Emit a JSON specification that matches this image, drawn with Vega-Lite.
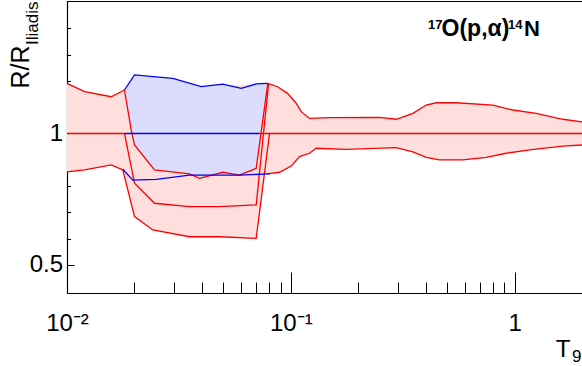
{
  "$schema": "https://vega.github.io/schema/vega-lite/v6.json",
  "width": 515,
  "height": 292,
  "autosize": "none",
  "padding": {"left": 67, "top": 1, "right": 0, "bottom": 73},
  "background": "white",
  "config": {"view": {"stroke": "#000", "strokeWidth": 1}, "font": "Liberation Sans"},
  "datasets": {
    "redfill": [
      {"x": 0.01, "y": 1.303}, {"x": 0.012, "y": 1.247}, {"x": 0.01576, "y": 1.214}, {"x": 0.01806, "y": 1.258},
      {"x": 0.07894, "y": 1.303}, {"x": 0.08722, "y": 1.28}, {"x": 0.09667, "y": 1.236}, {"x": 0.1057, "y": 1.173},
      {"x": 0.1113, "y": 1.122}, {"x": 0.1212, "y": 1.083}, {"x": 0.1489, "y": 1.087}, {"x": 0.2491, "y": 1.089},
      {"x": 0.2958, "y": 1.078}, {"x": 0.3509, "y": 1.112}, {"x": 0.4027, "y": 1.162}, {"x": 0.4464, "y": 1.176},
      {"x": 0.5483, "y": 1.176}, {"x": 0.799, "y": 1.162}, {"x": 0.9817, "y": 1.132}, {"x": 1.249, "y": 1.112},
      {"x": 1.642, "y": 1.078}, {"x": 2.0, "y": 1.063},
      {"x": 2.0, "y": 0.941}, {"x": 1.642, "y": 0.936}, {"x": 1.166, "y": 0.917}, {"x": 0.9174, "y": 0.901},
      {"x": 0.7466, "y": 0.882}, {"x": 0.5869, "y": 0.87}, {"x": 0.4617, "y": 0.87}, {"x": 0.4027, "y": 0.882},
      {"x": 0.3509, "y": 0.908}, {"x": 0.2958, "y": 0.928}, {"x": 0.1768, "y": 0.92}, {"x": 0.1299, "y": 0.925},
      {"x": 0.1212, "y": 0.901}, {"x": 0.1094, "y": 0.885}, {"x": 0.1004, "y": 0.842}, {"x": 0.08903, "y": 0.815},
      {"x": 0.07866, "y": 0.808}, {"x": 0.07615, "y": 0.808}, {"x": 0.07005, "y": 0.575},
      {"x": 0.048, "y": 0.58}, {"x": 0.03527, "y": 0.58}, {"x": 0.02418, "y": 0.601}, {"x": 0.02003, "y": 0.645},
      {"x": 0.01775, "y": 0.825}, {"x": 0.01576, "y": 0.847}, {"x": 0.012, "y": 0.825}, {"x": 0.01, "y": 0.817}
    ],
    "bluefill": [
      {"x": 0.01806, "y": 1.258}, {"x": 0.02003, "y": 1.362}, {"x": 0.0297, "y": 1.338}, {"x": 0.03978, "y": 1.28},
      {"x": 0.04968, "y": 1.297}, {"x": 0.06004, "y": 1.269}, {"x": 0.07005, "y": 1.299}, {"x": 0.07894, "y": 1.303},
      {"x": 0.07005, "y": 0.832}, {"x": 0.059, "y": 0.803}, {"x": 0.04968, "y": 0.815}, {"x": 0.03909, "y": 0.789},
      {"x": 0.03527, "y": 0.808}, {"x": 0.0246, "y": 0.825}, {"x": 0.02003, "y": 0.941}, {"x": 0.01936, "y": 1.019},
      {"x": 0.01806, "y": 1.258}
    ],
    "redlines": [
      {"s": "CL", "x": 0.01, "y": 1}, {"s": "CL", "x": 0.01806, "y": 1},
      {"s": "CR", "x": 0.0725, "y": 1}, {"s": "CR", "x": 2.0, "y": 1},
      {"s": "UL", "x": 0.01, "y": 1.303}, {"s": "UL", "x": 0.012, "y": 1.247}, {"s": "UL", "x": 0.01576, "y": 1.214}, {"s": "UL", "x": 0.01806, "y": 1.258},
      {"s": "UR", "x": 0.07894, "y": 1.303}, {"s": "UR", "x": 0.08722, "y": 1.28}, {"s": "UR", "x": 0.09667, "y": 1.236}, {"s": "UR", "x": 0.1057, "y": 1.173},
      {"s": "UR", "x": 0.1113, "y": 1.122}, {"s": "UR", "x": 0.1212, "y": 1.083}, {"s": "UR", "x": 0.1489, "y": 1.087}, {"s": "UR", "x": 0.2491, "y": 1.089},
      {"s": "UR", "x": 0.2958, "y": 1.078}, {"s": "UR", "x": 0.3509, "y": 1.112}, {"s": "UR", "x": 0.4027, "y": 1.162}, {"s": "UR", "x": 0.4464, "y": 1.176},
      {"s": "UR", "x": 0.5483, "y": 1.176}, {"s": "UR", "x": 0.799, "y": 1.162}, {"s": "UR", "x": 0.9817, "y": 1.132}, {"s": "UR", "x": 1.249, "y": 1.112},
      {"s": "UR", "x": 1.642, "y": 1.078}, {"s": "UR", "x": 2.0, "y": 1.063},
      {"s": "LL", "x": 0.01, "y": 0.817}, {"s": "LL", "x": 0.012, "y": 0.825}, {"s": "LL", "x": 0.01576, "y": 0.847}, {"s": "LL", "x": 0.01775, "y": 0.825},
      {"s": "LR", "x": 0.07866, "y": 0.808}, {"s": "LR", "x": 0.08903, "y": 0.815}, {"s": "LR", "x": 0.1004, "y": 0.842}, {"s": "LR", "x": 0.1094, "y": 0.885},
      {"s": "LR", "x": 0.1212, "y": 0.901}, {"s": "LR", "x": 0.1299, "y": 0.925}, {"s": "LR", "x": 0.1768, "y": 0.92}, {"s": "LR", "x": 0.2958, "y": 0.928},
      {"s": "LR", "x": 0.3509, "y": 0.908}, {"s": "LR", "x": 0.4027, "y": 0.882}, {"s": "LR", "x": 0.4617, "y": 0.87}, {"s": "LR", "x": 0.5869, "y": 0.87},
      {"s": "LR", "x": 0.7466, "y": 0.882}, {"s": "LR", "x": 0.9174, "y": 0.901}, {"s": "LR", "x": 1.166, "y": 0.917}, {"s": "LR", "x": 1.642, "y": 0.936},
      {"s": "LR", "x": 2.0, "y": 0.941},
      {"s": "L1", "x": 0.01806, "y": 1.258}, {"s": "L1", "x": 0.01936, "y": 1.019}, {"s": "L1", "x": 0.02003, "y": 0.941}, {"s": "L1", "x": 0.0246, "y": 0.825},
      {"s": "L1", "x": 0.03527, "y": 0.808}, {"s": "L1", "x": 0.03909, "y": 0.789}, {"s": "L1", "x": 0.04968, "y": 0.815}, {"s": "L1", "x": 0.059, "y": 0.803},
      {"s": "L1", "x": 0.07005, "y": 0.832}, {"s": "L1", "x": 0.07894, "y": 1.303},
      {"s": "L2", "x": 0.01806, "y": 1.0}, {"s": "L2", "x": 0.01869, "y": 0.917}, {"s": "L2", "x": 0.02003, "y": 0.769}, {"s": "L2", "x": 0.0246, "y": 0.692},
      {"s": "L2", "x": 0.03527, "y": 0.68}, {"s": "L2", "x": 0.048, "y": 0.68}, {"s": "L2", "x": 0.07005, "y": 0.686}, {"s": "L2", "x": 0.07952, "y": 1.299},
      {"s": "L3", "x": 0.01775, "y": 0.825}, {"s": "L3", "x": 0.02003, "y": 0.645}, {"s": "L3", "x": 0.02418, "y": 0.601}, {"s": "L3", "x": 0.03527, "y": 0.58},
      {"s": "L3", "x": 0.048, "y": 0.58}, {"s": "L3", "x": 0.07005, "y": 0.575}, {"s": "L3", "x": 0.08033, "y": 1.0}
    ],
    "bluelines": [
      {"s": "BC", "x": 0.01806, "y": 1}, {"s": "BC", "x": 0.0725, "y": 1},
      {"s": "BU", "x": 0.01806, "y": 1.258}, {"s": "BU", "x": 0.02003, "y": 1.362}, {"s": "BU", "x": 0.0297, "y": 1.338}, {"s": "BU", "x": 0.03978, "y": 1.28},
      {"s": "BU", "x": 0.04968, "y": 1.297}, {"s": "BU", "x": 0.06004, "y": 1.269}, {"s": "BU", "x": 0.07005, "y": 1.299}, {"s": "BU", "x": 0.07894, "y": 1.303},
      {"s": "BL", "x": 0.01775, "y": 0.828}, {"s": "BL", "x": 0.01968, "y": 0.782}, {"s": "BL", "x": 0.02504, "y": 0.785}, {"s": "BL", "x": 0.03527, "y": 0.803},
      {"s": "BL", "x": 0.059, "y": 0.803}, {"s": "BL", "x": 0.08033, "y": 0.808}
    ]
  },
  "layer": [
    {
      "data": {"name": "redfill"},
      "mark": {"type": "line", "fill": "#ffdede", "strokeOpacity": 0, "strokeWidth": 0},
      "encoding": {
        "x": {
          "field": "x", "type": "quantitative",
          "scale": {"type": "log", "domain": [0.01, 2], "nice": false},
          "axis": {
            "values": [0.01, 0.02, 0.03, 0.04, 0.05, 0.06, 0.07, 0.08, 0.09, 0.1, 0.2, 0.3, 0.4, 0.5, 0.6, 0.7, 0.8, 0.9, 1, 2],
            "labelExpr": "datum.value == 0.01 ? '10⁻²' : datum.value == 0.1 ? '10⁻¹' : datum.value == 1 ? '1' : ''",
            "tickSize": {"condition": {"test": "datum.value == 0.01 || datum.value == 0.1 || datum.value == 1", "value": -21}, "value": -11},
            "tickColor": "#000", "tickWidth": 1,
            "domainColor": "#000", "domainWidth": 1.2,
            "labelFontSize": 24, "labelFont": "Liberation Sans", "labelColor": "#000",
            "labelPadding": 39.5, "labelFlush": false, "labelOverlap": false, "labelBound": false,
            "grid": false,
            "title": "T", "titleFontSize": 24, "titleFontWeight": "normal", "titleColor": "#000", "titleFont": "Liberation Sans",
            "titleAlign": "right", "titleAnchor": "end", "titleX": 503, "titleY": 63, "titleBaseline": "alphabetic"
          }
        },
        "y": {
          "field": "y", "type": "quantitative",
          "scale": {"type": "log", "domain": [0.431, 2.012], "nice": false},
          "axis": {
            "values": [0.5, 0.574, 0.66, 0.758, 0.871, 1, 1.149, 1.32, 1.516, 1.741],
            "labelExpr": "datum.value == 0.5 ? '0.5' : datum.value == 1 ? '1' : ''",
            "tickSize": {"condition": {"test": "datum.value == 0.5 || datum.value == 1", "value": -7}, "value": -3.5},
            "tickColor": "#000", "tickWidth": 1,
            "domainColor": "#000", "domainWidth": 1.2,
            "labelFontSize": 24, "labelFont": "Liberation Sans", "labelColor": "#000",
            "labelPadding": 11.5, "labelFlush": false, "labelOverlap": false, "labelBound": false,
            "grid": false,
            "title": "R/R", "titleFontSize": 25, "titleFontWeight": "normal", "titleColor": "#000", "titleFont": "Liberation Sans",
            "titleAngle": 270, "titleAlign": "left", "titleBaseline": "alphabetic", "titleX": -39, "titleY": 87
          }
        },
        "order": {"value": null}
      }
    },
    {
      "data": {"name": "bluefill"},
      "mark": {"type": "line", "fill": "#dcdcfc", "strokeOpacity": 0, "strokeWidth": 0},
      "encoding": {
        "x": {"field": "x", "type": "quantitative"},
        "y": {"field": "y", "type": "quantitative"},
        "order": {"value": null}
      }
    },
    {
      "data": {"name": "redlines"},
      "mark": {"type": "line", "color": "#ff0000", "strokeWidth": 1.3},
      "encoding": {
        "x": {"field": "x", "type": "quantitative"},
        "y": {"field": "y", "type": "quantitative"},
        "detail": {"field": "s"}, "order": {"value": null}
      }
    },
    {
      "data": {"name": "bluelines"},
      "mark": {"type": "line", "color": "#0000ff", "strokeWidth": 1.3},
      "encoding": {
        "x": {"field": "x", "type": "quantitative"},
        "y": {"field": "y", "type": "quantitative"},
        "detail": {"field": "s"}, "order": {"value": null}
      }
    },
    {
      "data": {"values": [{}]},
      "mark": {"type": "text", "text": "Iliadis", "angle": 270, "align": "left", "baseline": "alphabetic", "fontSize": 17, "font": "Liberation Sans", "color": "#000"},
      "encoding": {"x": {"datum": 0.00744, "type": "quantitative"}, "y": {"datum": 1.595, "type": "quantitative"}}
    },
    {
      "data": {"values": [{}]},
      "mark": {"type": "text", "text": "9", "align": "left", "baseline": "alphabetic", "fontSize": 17, "font": "Liberation Sans", "color": "#000"},
      "encoding": {"x": {"datum": 1.804, "type": "quantitative"}, "y": {"datum": 0.2995, "type": "quantitative"}}
    },
    {
      "data": {"values": [{}]},
      "mark": {"type": "text", "text": "17", "align": "right", "baseline": "alphabetic", "fontSize": 13, "fontWeight": "bold", "font": "Liberation Sans", "color": "#000"},
      "encoding": {"x": {"datum": 0.4762, "type": "quantitative"}, "y": {"datum": 1.7357, "type": "quantitative"}}
    },
    {
      "data": {"values": [{}]},
      "mark": {"type": "text", "text": "O(p,α)", "align": "center", "baseline": "alphabetic", "fontSize": 23, "fontWeight": "bold", "font": "Liberation Sans", "color": "#000"},
      "encoding": {"x": {"datum": 0.6683, "type": "quantitative"}, "y": {"datum": 1.6685, "type": "quantitative"}}
    },
    {
      "data": {"values": [{}]},
      "mark": {"type": "text", "text": "14", "align": "left", "baseline": "alphabetic", "fontSize": 13, "fontWeight": "bold", "font": "Liberation Sans", "color": "#000"},
      "encoding": {"x": {"datum": 0.9341, "type": "quantitative"}, "y": {"datum": 1.7357, "type": "quantitative"}}
    },
    {
      "data": {"values": [{}]},
      "mark": {"type": "text", "text": "N", "align": "left", "baseline": "alphabetic", "fontSize": 22, "fontWeight": "bold", "font": "Liberation Sans", "color": "#000"},
      "encoding": {"x": {"datum": 1.1013, "type": "quantitative"}, "y": {"datum": 1.6685, "type": "quantitative"}}
    }
  ]
}
